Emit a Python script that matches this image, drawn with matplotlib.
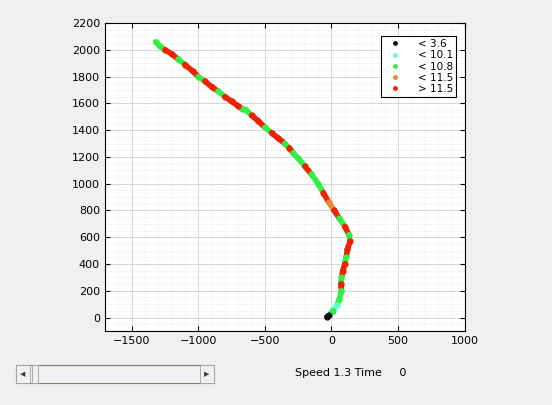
import matplotlib.pyplot as plt
from matplotlib.patches import Rectangle
from matplotlib.lines import Line2D

# track waypoints (x, y) and speed class per point
xs = [-1320, -1290, -1250, -1200, -1150, -1100, -1040, -1000, -950, -900, -850, -800,
      -750, -700, -670, -640, -600, -550, -500, -450, -400, -350, -320, -290, -250,
      -200, -150, -100, -60, -20, 20, 60, 100, 130, 140, 120, 110, 100, 85, 75, 70,
      75, 60, 40, 10, -20, -35]
ys = [2060, 2030, 2000, 1970, 1930, 1890, 1840, 1800, 1765, 1725, 1690, 1650,
      1615, 1580, 1560, 1550, 1510, 1470, 1420, 1380, 1340, 1300, 1270, 1230, 1190,
      1130, 1070, 1000, 930, 860, 800, 740, 680, 620, 570, 510, 450, 400, 350, 300, 250,
      200, 140, 90, 50, 15, 5]
cls = [2, 2, 4, 4, 2, 4, 4, 2, 4, 4, 2, 4,
       4, 4, 2, 2, 4, 4, 2, 4, 4, 2, 4, 2, 2,
       4, 2, 2, 4, 3, 4, 2, 4, 2, 4, 4, 2, 4, 4, 2, 4,
       2, 2, 1, 2, 0, 0]

labels = ['< 3.6', '< 10.1', '< 10.8', '< 11.5', '> 11.5']
colors = ['#111111', '#66ffcc', '#33ee44', '#ee8833', '#ee2200']

fig = plt.figure(figsize=(5.52, 4.05), dpi=100, facecolor='#f0f0f0')
ax = fig.add_axes([0.190, 0.183, 0.652, 0.760])

for i in range(len(xs) - 1):
    ax.plot(xs[i:i + 2], ys[i:i + 2], color=colors[cls[i]], lw=4,
            solid_capstyle='round', zorder=2)
for k in range(5):
    px = [x for x, c in zip(xs, cls) if c == k]
    py = [y for y, c in zip(ys, cls) if c == k]
    ax.plot(px, py, 'o', ms=3.5, color=colors[k], zorder=3)

ax.set_xlim(-1700, 1000)
ax.set_ylim(-100, 2200)
ax.set_xticks(range(-1500, 1001, 500))
ax.set_yticks(range(0, 2201, 200))
ax.minorticks_on()
ax.grid(True, which='major', color='#d0d0d0', lw=0.6)
ax.grid(True, which='minor', color='#dddddd', lw=0.5, ls=':')
ax.tick_params(labelsize=8, direction='in', which='both', top=True, right=True)
ax.tick_params(which='minor', length=0)

handles = [Line2D([], [], marker='o', ls='', ms=2.5, color=c) for c in colors]
leg = ax.legend(handles, labels, loc='upper right', fontsize=7.5, fancybox=False,
                framealpha=1, edgecolor='black', handletextpad=1.2,
                borderpad=0.3, labelspacing=0.12, bbox_to_anchor=(0.99, 0.975))
leg.get_frame().set_linewidth(0.8)

# slider widget
fig.patches.append(Rectangle((16 / 552, 1 - 383 / 405), 198 / 552, 18 / 405,
                             transform=fig.transFigure, facecolor='#f0f0f0',
                             edgecolor='#808070', lw=0.8))
fig.patches.append(Rectangle((16 / 552, 1 - 383 / 405), 14 / 552, 18 / 405,
                             transform=fig.transFigure, facecolor='#f0f0f0',
                             edgecolor='#a0a0a0', lw=0.6))
fig.patches.append(Rectangle((200 / 552, 1 - 383 / 405), 14 / 552, 18 / 405,
                             transform=fig.transFigure, facecolor='#f0f0f0',
                             edgecolor='#a0a0a0', lw=0.6))
fig.patches.append(Rectangle((32 / 552, 1 - 383 / 405), 6 / 552, 18 / 405,
                             transform=fig.transFigure, facecolor='#f0f0f0',
                             edgecolor='#a0a0a0', lw=0.6))
fig.text(23 / 552, 1 - 374 / 405, '◀', fontsize=5, ha='center', va='center', color='#404040')
fig.text(207 / 552, 1 - 374 / 405, '▶', fontsize=5, ha='center', va='center', color='#404040')
fig.text(295 / 552, 1 - 373 / 405, 'Speed 1.3 Time     0', fontsize=8, va='center')

fig.savefig('out.png', dpi=100, facecolor=fig.get_facecolor())
